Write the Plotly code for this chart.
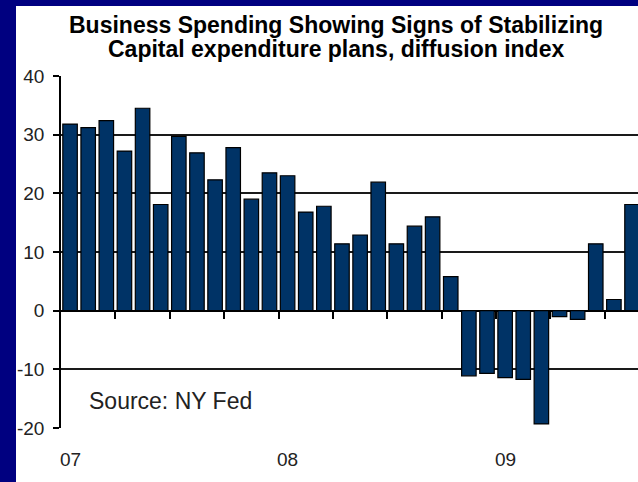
import plotly.graph_objects as go

# Capital expenditure plans, diffusion index (NY Fed), monthly Jan 2007 - Aug 2009
months = [
    "Jan 07", "Feb 07", "Mar 07", "Apr 07", "May 07", "Jun 07",
    "Jul 07", "Aug 07", "Sep 07", "Oct 07", "Nov 07", "Dec 07",
    "Jan 08", "Feb 08", "Mar 08", "Apr 08", "May 08", "Jun 08",
    "Jul 08", "Aug 08", "Sep 08", "Oct 08", "Nov 08", "Dec 08",
    "Jan 09", "Feb 09", "Mar 09", "Apr 09", "May 09", "Jun 09",
    "Jul 09", "Aug 09",
]
capex_index = [
    31.8, 31.2, 32.4, 27.2, 34.5, 18.1, 29.7, 26.9, 22.3, 27.8, 19.0, 23.5,
    23.0, 16.8, 17.8, 11.4, 12.9, 21.9, 11.4, 14.4, 16.0, 5.8, -11.1, -10.7,
    -11.4, -11.7, -19.3, -1.0, -1.5, 11.4, 1.9, 18.1,
]

year_tick_vals = ["Jan 07", "Jan 08", "Jan 09"]
year_tick_text = ["07", "08", "09"]
y_tick_vals = [-20, -10, 0, 10, 20, 30, 40]
y_tick_text = ["-20", "-10", "0", "10", "20", "30", "40"]

title_line1 = "Business Spending Showing Signs of Stabilizing"
title_line2 = "Capital expenditure plans, diffusion index"
source_text = "Source: NY Fed"

NAVY = "#000080"
BAR = "#003366"
LINE = "#1a1a1a"
FONT = "Liberation Sans, Arial, sans-serif"

W, H = 638, 482
ML, MR, MT, MB = 61, 0, 76, 54
pw, ph = W - ML - MR, H - MT - MB


def px_x(p):
    return (p - ML) / pw


def px_y(p):
    return (H - MB - p) / ph


x_range = [-0.5, 31.33]
# quarter boundaries between month categories
quarter_marks = [i + 0.5 for i in range(2, len(months), 3)]
zero_pos = (0 - y_tick_vals[0]) / (y_tick_vals[-1] - y_tick_vals[0])

fig = go.Figure()
fig.add_trace(go.Bar(
    x=months, y=capex_index,
    marker=dict(color=BAR, line=dict(color="black", width=1.2)),
    showlegend=False,
))

# year labels along the bottom edge
year_labels = [
    dict(text=t, xref="x", yref="paper", x=v, y=px_y(459),
         xanchor="center", yanchor="middle", showarrow=False,
         font=dict(size=19, family=FONT, color="#222222"))
    for v, t in zip(year_tick_vals, year_tick_text)
]

fig.update_layout(
    width=W, height=H, autosize=False,
    margin=dict(l=ML, r=MR, t=MT, b=MB, pad=0),
    paper_bgcolor="white", plot_bgcolor="white",
    bargap=0.2,
    font=dict(family=FONT, color="#222222"),
    # category axis sits on the zero line and carries the quarter ticks
    xaxis=dict(
        type="category", range=x_range,
        anchor="free", position=zero_pos, side="bottom",
        tickmode="array", tickvals=quarter_marks,
        ticks="outside", ticklen=7, tickwidth=1.5, tickcolor="black",
        showticklabels=False, showgrid=False, showline=False, zeroline=False,
    ),
    yaxis=dict(
        range=[-20, 40], tickvals=y_tick_vals, ticktext=y_tick_text,
        showgrid=True, gridcolor=LINE, gridwidth=1.5,
        zeroline=True, zerolinecolor="black", zerolinewidth=1.5,
        showline=True, linecolor="black", linewidth=1.5,
        ticks="outside", ticklen=6, tickcolor="black", tickwidth=1.5,
        tickfont=dict(size=19, family=FONT, color="#222222"),
        ticklabelstandoff=5,
    ),
    shapes=[
        dict(type="rect", xref="paper", yref="paper", layer="below",
             x0=px_x(0), x1=px_x(16), y0=px_y(H), y1=px_y(0),
             fillcolor=NAVY, line=dict(width=0)),
        dict(type="rect", xref="paper", yref="paper", layer="below",
             x0=px_x(0), x1=px_x(W), y0=px_y(6), y1=px_y(0),
             fillcolor=NAVY, line=dict(width=0)),
    ],
    annotations=[
        dict(text="<b>" + title_line1 + "</b>", xref="paper", yref="paper",
             x=px_x(336), y=px_y(25), xanchor="center", yanchor="middle",
             showarrow=False, font=dict(size=23, family=FONT, color="black")),
        dict(text="<b>" + title_line2 + "</b>", xref="paper", yref="paper",
             x=px_x(336), y=px_y(49), xanchor="center", yanchor="middle",
             showarrow=False, font=dict(size=23, family=FONT, color="black")),
        dict(text=source_text, xref="paper", yref="paper",
             x=px_x(87), y=px_y(401), xanchor="left", yanchor="middle",
             showarrow=False, font=dict(size=23, family=FONT, color="#222222")),
    ] + year_labels,
)

fig.write_html("out.html")
